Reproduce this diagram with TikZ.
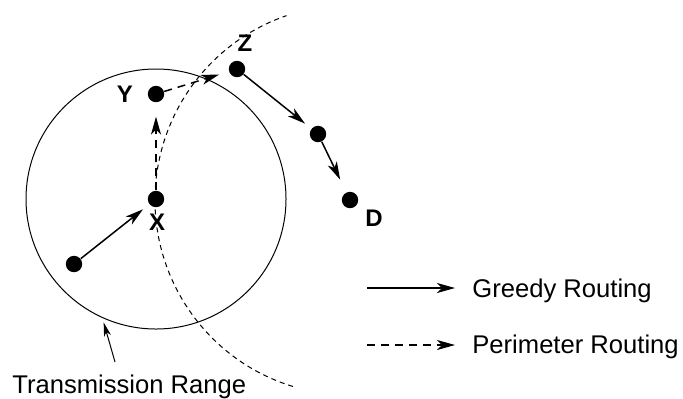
\documentclass[tikz,border=0pt]{standalone}
\usepackage{fontspec}
\setmainfont{Liberation Sans}
\usetikzlibrary{arrows.meta}

\begin{document}
\begin{tikzpicture}[x=0.5pt, y=-0.5pt,
  every node/.style={font=\fontsize{12.8}{15}\selectfont},
  dot/.style={circle, fill, inner sep=0pt, minimum size=8.2pt},
  lbl/.style={font=\fontsize{12}{14}\selectfont\bfseries, inner sep=0pt},
  txt/.style={anchor=base west, inner sep=0pt},
  greedy/.style={line width=0.75pt, -{Stealth[length=9pt, width=5pt, inset=2.5pt]}},
  perim/.style={greedy, dash pattern=on 4pt off 3pt},
  pointer/.style={line width=0.5pt, -{Stealth[length=7pt, width=3.5pt, inset=2pt]}}]
  \useasboundingbox (0,0) rectangle (683,398);
  % nodes on the route
  \node[dot] (src) at (74,264) {};
  \node[dot] (x) at (156,199) {};
  \node[dot] (y) at (156,94) {};
  \node[dot] (z) at (237,69) {};
  \node[dot] (w) at (318,134) {};
  \node[dot] (d) at (350,200) {};
  \node[lbl] (xlbl) at (157,222) {X};
  \node[lbl] (ylbl) at (125,94) {Y};
  \node[lbl] (zlbl) at (245,43) {Z};
  \node[lbl] (dlbl) at (374,218) {D};
  % transmission range of X, and arc of radius |XD| round D
  \draw[line width=0.5pt] (x) circle[radius=130];
  \draw[line width=0.5pt, dash pattern=on 2.5pt off 2pt] (d) ++(107:195) arc[start angle=107, end angle=251, radius=195];
  % hops
  \draw[greedy, shorten >=4pt] (src) -- (x);
  \draw[perim, shorten >=7pt] (x) -- (y);
  \draw[perim, shorten >=5pt] (y) -- (z);
  \draw[greedy, shorten >=4pt] (z) -- (w);
  \draw[greedy, shorten >=7pt] (w) -- (d);
  % caption of the circle
  \node[txt] (range) at (12,393) {Transmission Range};
  \coordinate (tail) at (115,362);
  \path (x) ++(113:134) coordinate (rim);
  \draw[pointer] (tail) -- (rim);
  % legend
  \coordinate (g1) at (367,288);
  \coordinate (g2) at (455,288);
  \coordinate (p1) at (367,345);
  \coordinate (p2) at (455,345);
  \draw[greedy] (g1) -- (g2);
  \draw[perim] (p1) -- (p2);
  \node[txt] (gtxt) at (472,297) {Greedy Routing};
  \node[txt] (ptxt) at (472,353) {Perimeter Routing};
\end{tikzpicture}
\end{document}
